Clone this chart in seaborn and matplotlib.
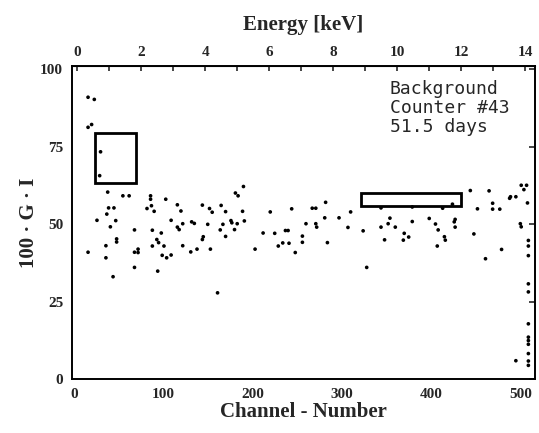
import matplotlib
matplotlib.use("Agg")
import matplotlib.pyplot as plt
import seaborn as sns
import pandas as pd
from matplotlib.patches import Rectangle
from matplotlib.ticker import MultipleLocator

channel = [
    16, 23, 16, 20, 30, 29, 38, 55, 62, 86, 86, 103, 116, 144, 165, 39, 45, 82,
    87, 90, 120, 152, 155, 37, 26, 47, 109, 122, 116, 118, 132, 135, 150, 167,
    41, 68, 88, 98, 164, 48, 48, 93, 95, 145, 144, 36, 88, 101, 122, 138, 153,
    72, 72, 68, 131, 16, 99, 104, 109, 36, 68, 94, 44, 161,
    190, 181, 184, 170, 189, 176, 177, 183, 191, 180, 170, 220, 244, 267, 271,
    282, 310, 260, 271, 272, 281, 297, 307, 324, 212, 225, 237, 240, 256, 256,
    234, 241, 229, 284, 203, 248, 328,
    344, 379, 413, 424, 444, 465, 488, 489, 495, 452, 469, 469, 477, 354, 379,
    398, 427, 426, 344, 352, 360, 405, 408, 427, 370, 375, 369, 348, 415, 416,
    448, 407, 479, 461,
    501, 507, 504, 508, 500, 501, 509, 509, 509, 509, 509, 509, 509, 509, 509,
    509, 509, 509, 495,
]
value = [
    91.0, 90.3, 81.3, 82.2, 73.4, 65.7, 60.4, 59.2, 59.2, 59.2, 58.1, 58.1, 56.3,
    56.2, 56.1, 55.3, 55.3, 55.1, 56.0, 54.2, 54.3, 55.1, 53.9, 53.3, 51.3, 51.2,
    51.3, 50.2, 49.1, 48.3, 50.8, 50.3, 50.0, 50.0, 49.2, 48.2, 48.1, 47.2, 48.2,
    45.3, 44.3, 45.1, 44.1, 46.0, 45.1, 43.1, 43.0, 43.0, 43.1, 42.0, 42.0, 42.0,
    40.9, 41.0, 41.1, 41.0, 40.0, 39.2, 40.1, 39.2, 36.1, 34.9, 33.1, 27.9,
    62.2, 60.1, 59.2, 54.1, 54.2, 51.2, 50.5, 50.2, 51.1, 48.3, 46.1, 54.0, 55.0,
    55.2, 55.2, 57.1, 54.0, 50.2, 50.2, 49.1, 52.1, 52.1, 49.0, 47.9, 47.2, 47.1,
    48.0, 48.0, 46.2, 44.2, 44.0, 43.9, 43.0, 44.1, 42.0, 40.9, 36.1,
    55.3, 55.6, 55.2, 56.5, 60.9, 60.8, 58.4, 58.9, 58.9, 55.0, 56.8, 54.9, 54.9,
    52.0, 50.9, 51.9, 51.6, 50.8, 49.1, 50.2, 49.1, 50.1, 48.2, 49.1, 47.1, 45.9,
    44.9, 45.0, 46.0, 44.9, 46.9, 43.0, 41.9, 38.9,
    62.6, 62.6, 61.2, 56.9, 50.2, 49.2, 44.8, 43.0, 39.9, 30.8, 28.2, 17.9, 13.6,
    12.5, 11.3, 8.3, 5.9, 4.5, 6.0,
]

# the two marked windows: (channel from, channel to, value from, value to)
box_low = [24, 70, 63.4, 79.6]
box_high = [322, 434, 55.8, 60.2]

info_text = "Background\nCounter #43\n51.5 days"

df = pd.DataFrame({"channel": channel, "value": value})

sns.set_style("white")
serif = ["Liberation Serif", "DejaVu Serif"]

fig = plt.figure(figsize=(5.39, 4.33), dpi=100)
ax = fig.add_axes([0.1327, 0.124, 0.86, 0.723])

sns.scatterplot(data=df, x="channel", y="value", color="black", s=7,
                edgecolor="none", linewidth=0, ax=ax, legend=False)

for b in (box_low, box_high):
    ax.add_patch(Rectangle((b[0], b[2]), b[1] - b[0], b[3] - b[2],
                           fill=False, edgecolor="black", linewidth=2.0))

ax.set_xlim(-2.5, 516.5)
ax.set_ylim(0, 101)
ax.set_xticks([0, 100, 200, 300, 400, 500])
ax.xaxis.set_minor_locator(MultipleLocator(20))
ax.set_yticks([0, 25, 50, 75, 100])
ax.tick_params(which="both", direction="in", right=True, top=False,
               labelright=False)
ax.tick_params(which="major", length=4, width=1.2, pad=6)
ax.tick_params(which="minor", length=2.5, width=1.0)
for lab in ax.get_xticklabels() + ax.get_yticklabels():
    lab.set_family(serif)
    lab.set_fontweight("bold")
    lab.set_fontsize(11)

for sp in ax.spines.values():
    sp.set_linewidth(1.4)
    sp.set_color("black")

ax.set_xlabel("Channel - Number", family=serif, fontweight="bold",
              fontsize=15, labelpad=1)
ax.set_ylabel("100 · G · I", family=serif, fontweight="bold",
              fontsize=15, labelpad=1)

# energy scale on top
def ch_to_e(c):
    return (c - 4) / 35.8

def e_to_ch(e):
    return e * 35.8 + 4

top = ax.secondary_xaxis("top", functions=(ch_to_e, e_to_ch))
top.set_xticks(range(0, 15, 2))
top.xaxis.set_minor_locator(MultipleLocator(1))
top.tick_params(which="both", direction="in", length=3.5, width=1.2, pad=5)
for lab in top.get_xticklabels():
    lab.set_family(serif)
    lab.set_fontweight("bold")
    lab.set_fontsize(11)
top.set_xlabel("Energy [keV]", family=serif, fontweight="bold",
               fontsize=15, labelpad=12)

ax.text(0.687, 0.955, info_text, transform=ax.transAxes, ha="left",
        va="top", family="DejaVu Sans Mono", fontsize=13, linespacing=1.05)

fig.savefig("out.png", dpi=100)
